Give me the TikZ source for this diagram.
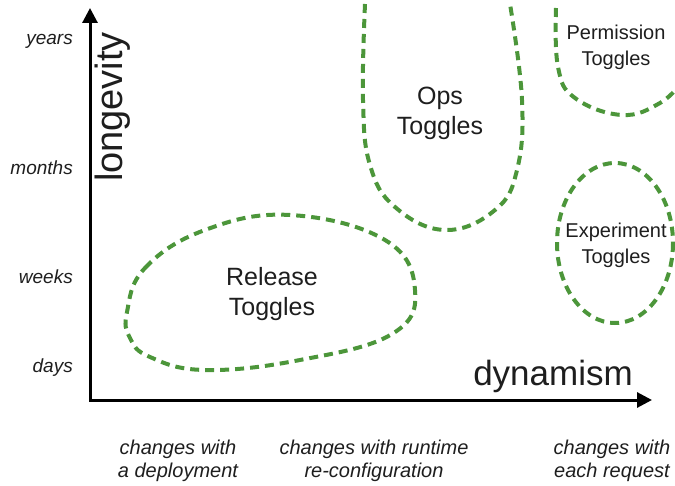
\documentclass[tikz,border=0pt]{standalone}
\usepackage{fontspec}
\setmainfont{Liberation Sans}
\usetikzlibrary{arrows.meta}
\definecolor{togglegreen}{RGB}{76,150,58}
\definecolor{ink}{RGB}{30,30,30}
\begin{document}
\begin{tikzpicture}[x=1pt,y=-1pt,text=ink,
	axis/.style={line width=3pt,{Triangle[length=15pt,width=15pt]}-{Triangle[length=15pt,width=15pt]}},
	toggle/.style={togglegreen,line width=4pt,dash pattern=on 9pt off 6pt},
	big label/.style={font=\fontsize{25}{30}\selectfont,align=center},
	small label/.style={font=\fontsize{20}{26}\selectfont,align=center},
	tick label/.style={font=\fontsize{19}{20}\selectfont\itshape,anchor=east,inner sep=0pt},
	change label/.style={font=\fontsize{20}{23}\selectfont\itshape,align=center},
	axis label/.style={font=\fontsize{38}{40}\selectfont}]
	\useasboundingbox (0,0) rectangle (675,486);
	\clip (0,0) rectangle (675,486);
	% axes
	\coordinate (origin) at (90,400);
	\coordinate (ytip) at (90,8);
	\coordinate (xtip) at (652,400);
	\draw [axis] (ytip)--(origin)--(xtip);
	\node [axis label,rotate=90] (longevity) at (113,107) {longevity};
	\node [axis label,font=\fontsize{35}{40}\selectfont] (dynamism) at (553,376) {dynamism};
	\node [tick label] (years) at (73,41) {years};
	\node [tick label] (months) at (73,168) {months};
	\node [tick label] (weeks) at (73,277) {weeks};
	\node [tick label] (days) at (73,368) {days};
	\node [change label] (deploy) at (178,461) {changes with\\a deployment};
	\node [change label] (runtime) at (374,461) {changes with runtime\\re-configuration};
	\node [change label] (request) at (612,461) {changes with\\each request};
	% toggle regions
	\draw [toggle] plot [smooth cycle,tension=0.7] coordinates
	{(127,312) (145,268) (205,230) (290,215) (385,240) (415,290) (392,334) (300,360) (205,370) (150,357) (130,338)};
	\draw [toggle] plot [smooth,tension=0.7] coordinates
	{(365,4) (363,100) (370,165) (395,207) (445,230) (495,210) (517,170) (522,100) (510,4)};
	\draw [toggle] plot [smooth,tension=0.7] coordinates
	{(556,8) (558,67) (575,98) (622,115) (660,103) (682,82)};
	\draw [toggle] (615,243) ellipse [x radius=58,y radius=80];
	\node [big label] (release) at (272,294) {Release\\Toggles};
	\node [big label] (ops) at (440,113) {Ops\\Toggles};
	\node [small label] (permission) at (616,47) {Permission\\Toggles};
	\node [small label] (experiment) at (616,245) {Experiment\\Toggles};
\end{tikzpicture}
\end{document}
